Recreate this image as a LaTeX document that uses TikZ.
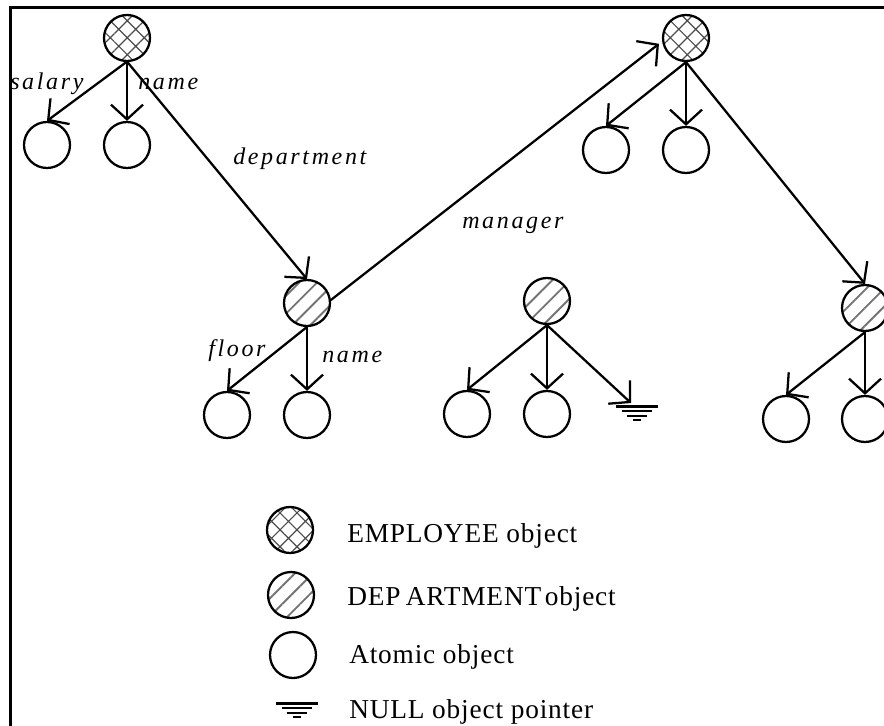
\documentclass[tikz,border=0pt]{standalone}
\usepackage{fontspec}
\setmainfont{Liberation Serif}
\newfontfamily\lblfont[LetterSpace=11]{Liberation Serif}
\newfontfamily\legfont[LetterSpace=3]{Liberation Serif}
\usetikzlibrary{arrows.meta,patterns.meta}
\tikzset{
  nullsym/.pic={
    \draw[line width=2.25pt] (-21,0) -- (21,0);
    \draw[line width=1.5pt] (-15,5) -- (15,5);
    \draw[line width=1.5pt] (-10,9.5) -- (10,9.5);
    \draw[line width=1.5pt] (-4,14) -- (4,14);
  }
}
\begin{document}
\begin{tikzpicture}[x=0.75pt,y=-0.75pt,
  obj/.style={circle,draw,line width=1.7pt,minimum size=34.5pt,inner sep=0pt},
  emp/.style={obj,pattern={Hatch[angle=45,distance=9pt,line width=0.9pt]},pattern color=black!70},
  dept/.style={obj,pattern={Lines[angle=45,distance=9.5pt,line width=1.4pt]},pattern color=black!55},
  link/.style={line width=1.7pt,-{Straight Barb[length=11pt,width=24pt,line width=1.7pt]}},
  lbl/.style={font=\lblfont\itshape\fontsize{18}{20}\selectfont,anchor=base west,inner sep=0pt},
  leg/.style={font=\legfont\fontsize{20.5}{24}\selectfont,anchor=base west,inner sep=0pt}]
\useasboundingbox (0,0) rectangle (884,725);
\clip (0,0) rectangle (884,725);
% frame
\draw[line width=2.25pt] (10,726) -- (10,7) -- (886,7);

% tree 1: employee
\node[emp] (e1) at (127,38) {};
\node[obj] (e1a) at (47,145) {};
\node[obj] (e1b) at (127,145) {};
% department 1
\node[dept] (d1) at (307,303) {};
\node[obj] (d1a) at (227,415) {};
\node[obj] (d1b) at (307,415) {};
% department 2
\node[dept] (d2) at (547,301) {};
\node[obj] (d2a) at (467,414) {};
\node[obj] (d2b) at (547,414) {};
\pic at (637,406) {nullsym};
\coordinate (nt) at (631,403);
% employee 2
\node[emp] (e2) at (686,38) {};
\node[obj] (e2a) at (606,150) {};
\node[obj] (e2b) at (686,150) {};
% department 3
\node[dept] (d3) at (865,308) {};
\node[obj] (d3a) at (786,419) {};
\node[obj] (d3b) at (865,419) {};

% connectors
\draw[link] (e1.south) -- (e1a.north);
\draw[link] (e1.south) -- (e1b.north);
\draw[link] (e1.south) -- (d1.north);
\draw[link] (d1.south) -- (d1a.north);
\draw[link] (d1.south) -- (d1b.north);
\draw[link,shorten >=3pt] (d1.7) -- (e2.188);
\draw[link] (d2.south) -- (d2a.north);
\draw[link] (d2.south) -- (d2b.north);
\draw[link] (d2.south) -- (nt);
\draw[link] (e2.south) -- (e2a.north);
\draw[link] (e2.south) -- (e2b.north);
\draw[link] (e2.south) -- (d3.north);
\draw[link] (d3.south) -- (d3a.north);
\draw[link] (d3.south) -- (d3b.north);

% labels
\node[lbl] (ls) at (10,89) {salary};
\node[lbl] (ln1) at (138,89) {name};
\node[lbl] (ld) at (233,164) {department};
\node[lbl] (lm) at (462,228) {manager};
\node[lbl] (lf) at (208,356) {floor};
\node[lbl] (ln2) at (322,362) {name};

% legend
\node[emp] (k1) at (290,530) {};
\node[dept] (k2) at (291,595) {};
\node[obj] (k3) at (293,655) {};
\pic at (296.5,703) {nullsym};
\node[leg] (t1) at (347,542) {EMPLOYEE object};
\node[leg] (t2) at (347,605) {DEP\kern4pt ARTMENT\kern-3pt\ object};
\node[leg] (t3) at (349,663) {Atomic object};
\node[leg] (t4) at (349,718) {NULL object pointer};
\end{tikzpicture}
\end{document}
